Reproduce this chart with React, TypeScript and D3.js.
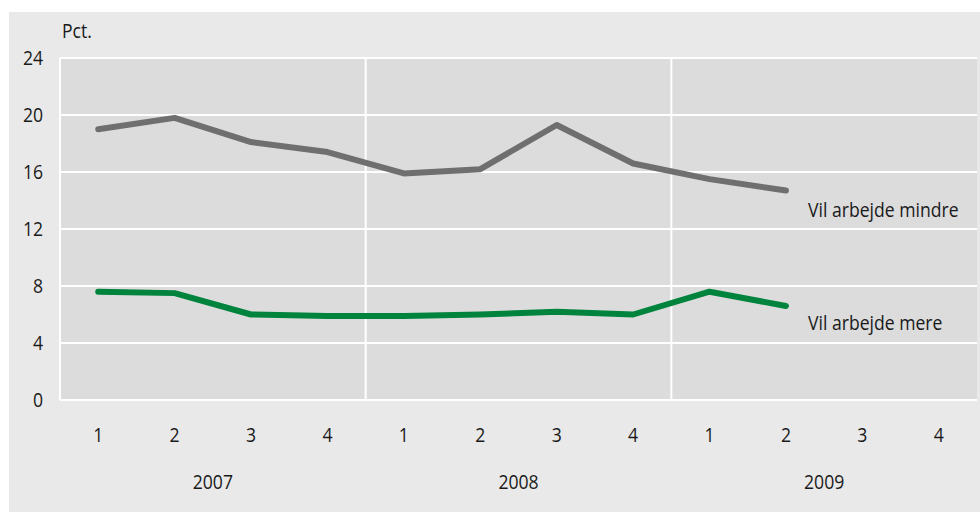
import React from "react";
import * as d3 from "d3";

// quarterly shares, pct.
const years = ["2007", "2008", "2009"];
const quarters = ["1", "2", "3", "4"];
const yTicks = [0, 4, 8, 12, 16, 20, 24];
const lessWork = [19.0, 19.8, 18.1, 17.4, 15.9, 16.2, 19.3, 16.6, 15.5, 14.7];
const moreWork = [7.6, 7.5, 6.0, 5.9, 5.9, 6.0, 6.2, 6.0, 7.6, 6.6];
const seriesNames = ["Vil arbejde mindre", "Vil arbejde mere"];

const W = 980;
const H = 512;
const left = 60;
const right = 977;
const top = 58;
const bottom = 400;
const font = "'Open Sans', sans-serif";
const fs = 20;

// condensed look: squeeze text horizontally
const T = ({ x, y, anchor = "start", children }: any) => (
  <text
    transform={`translate(${x},${y}) scale(0.88,1)`}
    textAnchor={anchor}
    fontSize={fs}
    fill="#1a1a1a"
  >
    {children}
  </text>
);

export default function App() {
  const slots = years.flatMap((yr) => quarters.map((q) => `${yr}-${q}`));
  const x = d3.scaleBand().domain(slots).range([left, right]);
  const y = d3.scaleLinear().domain([0, 24]).range([bottom, top]);
  const cx = (i: number) => (x(slots[i]) as number) + x.bandwidth() / 2;

  const line = d3
    .line<number>()
    .x((_, i) => cx(i))
    .y((d) => y(d));

  const series = [
    { name: seriesNames[0], values: lessWork, color: "#6f6f6f" },
    { name: seriesNames[1], values: moreWork, color: "#00843d" },
  ];

  return (
    <svg width={W} height={H} style={{ position: "absolute", left: 0, top: 0 }} fontFamily={font}>
      <rect x={9} y={12} width={W - 9} height={H - 12} fill="#e9e9e9" />
      <rect x={left} y={top} width={right - left} height={bottom - top} fill="#dcdcdc" />
      {yTicks.map((t) => (
        <g key={t}>
          <line x1={left} x2={right} y1={y(t)} y2={y(t)} stroke="#fff" strokeWidth={2} />
          <T x={43} y={y(t) + 7} anchor="end">
            {t}
          </T>
        </g>
      ))}
      <line x1={left} x2={left} y1={top} y2={bottom} stroke="#fff" strokeWidth={2} />
      {years.slice(1).map((yr) => (
        <line
          key={yr}
          x1={x(`${yr}-1`) as number}
          x2={x(`${yr}-1`) as number}
          y1={top}
          y2={bottom}
          stroke="#fff"
          strokeWidth={2}
        />
      ))}
      <T x={62} y={38}>
        Pct.
      </T>
      {slots.map((s, i) => (
        <T key={s} x={cx(i)} y={442} anchor="middle">
          {quarters[i % 4]}
        </T>
      ))}
      {years.map((yr) => {
        const a = x(`${yr}-1`) as number;
        const b = (x(`${yr}-4`) as number) + x.bandwidth();
        return (
          <T key={yr} x={(a + b) / 2} y={489} anchor="middle">
            {yr}
          </T>
        );
      })}
      {series.map((s) => (
        <path
          key={s.name}
          d={line(s.values) || ""}
          fill="none"
          stroke={s.color}
          strokeWidth={6}
          strokeLinecap="round"
          strokeLinejoin="round"
        />
      ))}
      <T x={808} y={217}>
        {seriesNames[0]}
      </T>
      <T x={808} y={330}>
        {seriesNames[1]}
      </T>
    </svg>
  );
}
